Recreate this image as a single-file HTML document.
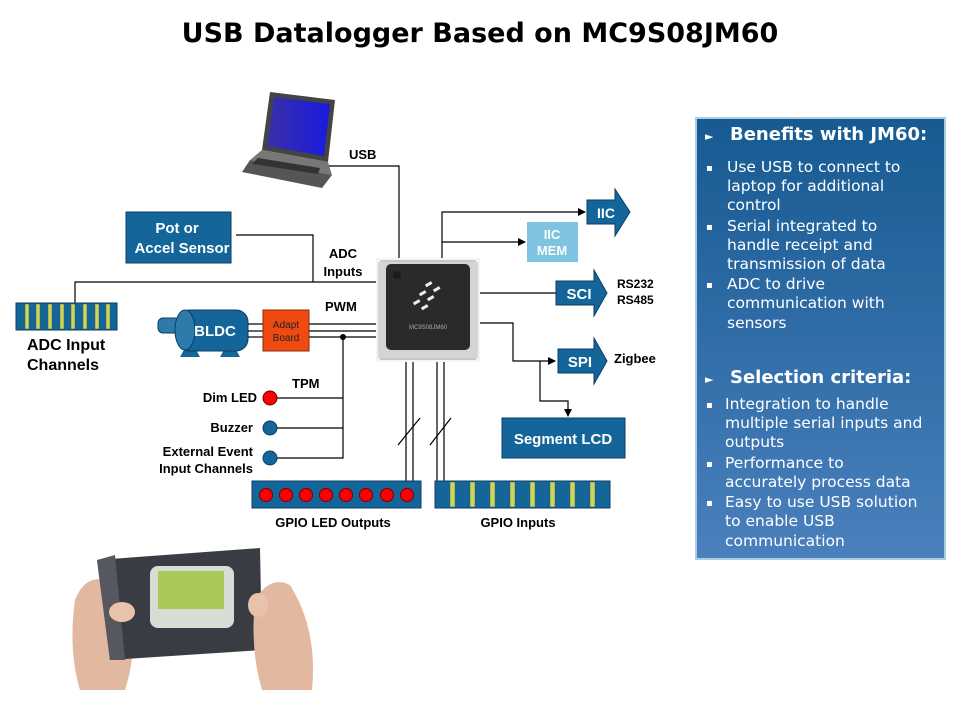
<!DOCTYPE html>
<html><head><meta charset="utf-8"><style>
html,body{margin:0;padding:0;background:#fff}
svg{display:block}
text{font-family:"Liberation Sans",Arial,sans-serif}
text.dv,.dv text{font-family:"DejaVu Sans",Verdana,sans-serif}
</style></head><body>
<svg width="960" height="720" viewBox="0 0 960 720" xmlns="http://www.w3.org/2000/svg">
<defs>
<linearGradient id="pg" x1="0" y1="0" x2="0" y2="1"><stop offset="0" stop-color="#175a92"/><stop offset="1" stop-color="#4a80bd"/></linearGradient>
<linearGradient id="scr" x1="0" y1="0" x2="1" y2="0"><stop offset="0" stop-color="#3a2fa8"/><stop offset="1" stop-color="#1a1adf"/></linearGradient>
<marker id="ar" markerWidth="8" markerHeight="8" refX="7" refY="4" orient="auto" markerUnits="userSpaceOnUse"><path d="M0,0 L8,4 L0,8 z" fill="#000"/></marker>
</defs>
<text class="dv" x="480" y="42" text-anchor="middle" font-size="27" font-weight="bold" fill="#000">USB Datalogger Based on MC9S08JM60</text>

<!-- laptop -->
<g>
<polygon points="270,92 335,100 328,162 262,150" fill="#444"/>
<polygon points="274,97 330,104 324,156 267,146" fill="url(#scr)"/>
<polygon points="262,150 328,162 332,175 250,160" fill="#777"/>
<polygon points="250,160 332,175 322,188 242,172" fill="#555"/>
<polygon points="258,158 320,168 318,174 252,164" fill="#333"/>
</g>
<text x="349" y="159" font-size="13" font-weight="bold">USB</text>
<polyline points="329,166 399,166 399,258" fill="none" stroke="#000" stroke-width="1.2"/>

<!-- Pot sensor -->
<rect x="126" y="212" width="105" height="51" fill="#13659a" stroke="#0b3e66"/>
<svg x="126" y="212" width="105" height="51"><text x="51" y="21" text-anchor="middle" font-size="15" font-weight="bold" fill="#fff">Pot or</text><text x="56" y="41" text-anchor="middle" font-size="15" font-weight="bold" fill="#fff">Accel Sensor</text></svg>
<polyline points="236,235 313,235 313,282" fill="none" stroke="#000" stroke-width="1.2"/>
<text x="343" y="258" text-anchor="middle" font-size="13" font-weight="bold">ADC</text>
<text x="343" y="276" text-anchor="middle" font-size="13" font-weight="bold">Inputs</text>
<polyline points="75,303 75,282 378,282" fill="none" stroke="#000" stroke-width="1.2"/>

<!-- ADC bar -->
<rect x="16" y="303" width="101" height="27" fill="#13659a" stroke="#0b3e66"/>
<g fill="#c8d85a" stroke="#555" stroke-width="0.5">
<rect x="25" y="304" width="4" height="25"/><rect x="36" y="304" width="4" height="25"/><rect x="48" y="304" width="4" height="25"/><rect x="60" y="304" width="4" height="25"/><rect x="71" y="304" width="4" height="25"/><rect x="83" y="304" width="4" height="25"/><rect x="95" y="304" width="4" height="25"/><rect x="106" y="304" width="4" height="25"/>
</g>
<text x="27" y="350" font-size="16" font-weight="bold">ADC Input</text>
<text x="27" y="370" font-size="16" font-weight="bold">Channels</text>

<!-- BLDC -->
<rect x="158" y="318" width="22" height="15" rx="5" fill="#2d7bab" stroke="#0b3e66"/>
<polygon points="185,348 195,348 200,357 180,357" fill="#13659a"/>
<polygon points="225,348 235,348 240,357 220,357" fill="#13659a"/>
<rect x="178" y="310" width="70" height="41" rx="12" fill="#13659a" stroke="#0b3e66"/>
<ellipse cx="185" cy="330" rx="10" ry="20" fill="#2d7bab" stroke="#0b3e66"/>
<text x="215" y="336" text-anchor="middle" font-size="15" font-weight="bold" fill="#fff">BLDC</text>
<g stroke="#000" stroke-width="1.2">
<line x1="248" y1="324" x2="263" y2="324"/><line x1="248" y1="331" x2="263" y2="331"/><line x1="248" y1="337" x2="263" y2="337"/>
<line x1="309" y1="324" x2="378" y2="324"/><line x1="309" y1="331" x2="378" y2="331"/><line x1="309" y1="337" x2="378" y2="337"/>
</g>
<rect x="263" y="310" width="46" height="41" fill="#f04a10" stroke="#8a2a08"/>
<text x="286" y="328" text-anchor="middle" font-size="10" fill="#222">Adapt</text>
<text x="286" y="341" text-anchor="middle" font-size="10" fill="#222">Board</text>
<text x="325" y="311" font-size="13" font-weight="bold">PWM</text>
<circle cx="343" cy="337" r="3" fill="#000"/>
<polyline points="343,337 343,458 277,458" fill="none" stroke="#000" stroke-width="1.2"/>
<line x1="277" y1="398" x2="343" y2="398" stroke="#000" stroke-width="1.2"/>
<line x1="277" y1="428" x2="343" y2="428" stroke="#000" stroke-width="1.2"/>
<text x="292" y="388" font-size="13" font-weight="bold">TPM</text>
<text x="257" y="402" text-anchor="end" font-size="13" font-weight="bold">Dim LED</text>
<text x="253" y="432" text-anchor="end" font-size="13" font-weight="bold">Buzzer</text>
<text x="253" y="456" text-anchor="end" font-size="13" font-weight="bold">External  Event</text>
<text x="253" y="473" text-anchor="end" font-size="13" font-weight="bold">Input Channels</text>
<circle cx="270" cy="398" r="7" fill="#f00" stroke="#700"/>
<circle cx="270" cy="428" r="7" fill="#13659a" stroke="#0b3e66"/>
<circle cx="270" cy="458" r="7" fill="#13659a" stroke="#0b3e66"/>

<!-- chip -->
<rect x="376" y="258" width="104" height="104" fill="#f4f4f4"/>
<rect x="380" y="260" width="96" height="100" fill="#c8c8c8"/>
<rect x="378" y="262" width="100" height="96" fill="#d4d4d4"/>
<rect x="386" y="264" width="84" height="86" rx="5" fill="#2a2a2c"/>
<circle cx="397" cy="275" r="4" fill="#1a1a1a"/>
<g fill="#eee">
<rect x="425" y="283" width="7" height="3" transform="rotate(-30 428 284)"/><rect x="433" y="288" width="7" height="3" transform="rotate(-30 436 289)"/>
<rect x="419" y="292" width="7" height="3" transform="rotate(-30 422 293)"/><rect x="427" y="297" width="7" height="3" transform="rotate(-30 430 298)"/>
<rect x="413" y="301" width="7" height="3" transform="rotate(-30 416 302)"/><rect x="421" y="306" width="7" height="3" transform="rotate(-30 424 307)"/>
</g>
<text x="428" y="329" text-anchor="middle" font-size="6" fill="#aaa">MC9S08JM60</text>

<!-- GPIO lines -->
<g stroke="#000" stroke-width="1.2">
<line x1="406" y1="362" x2="406" y2="481"/><line x1="413" y1="362" x2="413" y2="481"/>
<line x1="437" y1="362" x2="437" y2="481"/><line x1="444" y1="362" x2="444" y2="481"/>
<line x1="398" y1="445" x2="420" y2="418"/><line x1="430" y1="445" x2="451" y2="418"/>
</g>
<rect x="252" y="481" width="169" height="27" fill="#13659a" stroke="#0b3e66"/>
<g fill="#f00" stroke="#700">
<circle cx="266" cy="495" r="6.5"/><circle cx="286" cy="495" r="6.5"/><circle cx="306" cy="495" r="6.5"/><circle cx="326" cy="495" r="6.5"/><circle cx="346" cy="495" r="6.5"/><circle cx="366" cy="495" r="6.5"/><circle cx="387" cy="495" r="6.5"/><circle cx="407" cy="495" r="6.5"/>
</g>
<text x="333" y="527" text-anchor="middle" font-size="13" font-weight="bold">GPIO LED Outputs</text>
<rect x="435" y="481" width="175" height="27" fill="#13659a" stroke="#0b3e66"/>
<g fill="#c8d85a" stroke="#555" stroke-width="0.5">
<rect x="450" y="482" width="5" height="25"/><rect x="470" y="482" width="5" height="25"/><rect x="490" y="482" width="5" height="25"/><rect x="510" y="482" width="5" height="25"/><rect x="530" y="482" width="5" height="25"/><rect x="550" y="482" width="5" height="25"/><rect x="570" y="482" width="5" height="25"/><rect x="590" y="482" width="5" height="25"/>
</g>
<text x="518" y="527" text-anchor="middle" font-size="13" font-weight="bold">GPIO Inputs</text>

<!-- right side -->
<polyline points="442,258 442,212 585,212" fill="none" stroke="#000" stroke-width="1.2" marker-end="url(#ar)"/>
<line x1="442" y1="242" x2="525" y2="242" stroke="#000" stroke-width="1.2" marker-end="url(#ar)"/>
<polygon points="587,200 615,200 615,189 630,212 615,236 615,224 587,224" fill="#13659a" stroke="#0b3e66"/>
<text x="606" y="218" text-anchor="middle" font-size="14" font-weight="bold" fill="#fff">IIC</text>
<rect x="527" y="222" width="51" height="40" fill="#7ec4e0"/>
<text x="552" y="239" text-anchor="middle" font-size="13" font-weight="bold" fill="#fff">IIC</text>
<text x="552" y="255" text-anchor="middle" font-size="13" font-weight="bold" fill="#fff">MEM</text>
<line x1="480" y1="293" x2="556" y2="293" stroke="#000" stroke-width="1.2"/>
<polygon points="556,281 594,281 594,270 607,293 594,316 594,305 556,305" fill="#13659a" stroke="#0b3e66"/>
<text x="579" y="299" text-anchor="middle" font-size="15" font-weight="bold" fill="#fff">SCI</text>
<text x="617" y="288" font-size="12" font-weight="bold">RS232</text>
<text x="617" y="304" font-size="12" font-weight="bold">RS485</text>
<polyline points="480,323 513,323 513,361 555,361" fill="none" stroke="#000" stroke-width="1.2" marker-end="url(#ar)"/>
<polygon points="558,349 594,349 594,338 607,361 594,384 594,373 558,373" fill="#13659a" stroke="#0b3e66"/>
<text x="580" y="367" text-anchor="middle" font-size="15" font-weight="bold" fill="#fff">SPI</text>
<text x="614" y="363" font-size="13" font-weight="bold">Zigbee</text>
<polyline points="540,361 540,401 568,401 568,416" fill="none" stroke="#000" stroke-width="1.2" marker-end="url(#ar)"/>
<rect x="502" y="418" width="123" height="40" fill="#13659a" stroke="#0b3e66"/>
<text x="563" y="444" text-anchor="middle" font-size="15" font-weight="bold" fill="#fff">Segment LCD</text>

<!-- panel -->
<rect x="696" y="118" width="249" height="441" fill="url(#pg)" stroke="#a9cde4" stroke-width="2"/>
<g fill="#fff" class="dv">
<text x="705" y="140" font-size="11">►</text>
<text x="730" y="140" font-size="18" font-weight="bold">Benefits with JM60:</text>
<g font-size="15.5">
<text x="706" y="171" font-size="10">▪</text><text x="727" y="172">Use USB to connect to</text><text x="727" y="191">laptop for additional</text><text x="727" y="210">control</text>
<text x="706" y="230" font-size="10">▪</text><text x="727" y="231">Serial integrated to</text><text x="727" y="250">handle receipt and</text><text x="727" y="269">transmission of data</text>
<text x="706" y="288" font-size="10">▪</text><text x="727" y="289">ADC to drive</text><text x="727" y="308">communication with</text><text x="727" y="328">sensors</text>
</g>
<text x="705" y="383" font-size="11">►</text>
<text x="730" y="383" font-size="18" font-weight="bold">Selection criteria:</text>
<g font-size="15.5">
<text x="706" y="408" font-size="10">▪</text><text x="725" y="409">Integration to handle</text><text x="725" y="428">multiple serial inputs and</text><text x="725" y="447">outputs</text>
<text x="706" y="467" font-size="10">▪</text><text x="725" y="468">Performance to</text><text x="725" y="487">accurately process data</text>
<text x="706" y="506" font-size="10">▪</text><text x="725" y="507">Easy to use USB solution</text><text x="725" y="526">to enable USB</text><text x="725" y="546">communication</text>
</g>
</g>

<!-- photo -->
<path d="M75,600 Q85,575 105,580 L130,610 Q138,650 125,690 L80,690 Q68,650 75,600z" fill="#e2b9a0"/>
<polygon points="97,560 260,548 262,650 110,660" fill="#3a3c44"/>
<polygon points="97,560 115,555 125,660 110,660" fill="#55585f"/>
<rect x="150" y="566" width="84" height="62" rx="8" fill="#d9dcd4"/>
<rect x="158" y="571" width="66" height="38" fill="#a8c85a"/>
<path d="M255,600 Q270,575 290,585 Q318,630 312,690 L262,690 Q250,650 255,600z" fill="#e2b9a0"/>
<ellipse cx="122" cy="612" rx="13" ry="10" fill="#e8c2aa"/>
<ellipse cx="258" cy="605" rx="10" ry="12" fill="#e8c2aa"/>
</svg>
</body></html>
